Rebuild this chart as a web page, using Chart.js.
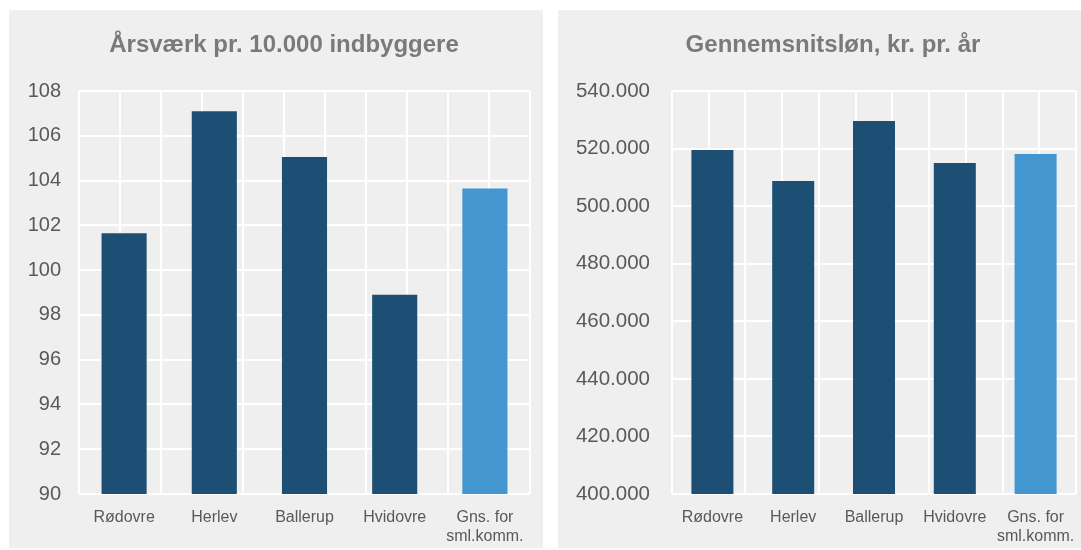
<!DOCTYPE html>
<html lang="da">
<head>
<meta charset="utf-8">
<title>Årsværk og gennemsnitsløn</title>
<script src="https://cdn.jsdelivr.net/npm/chart.js@4/dist/chart.umd.min.js"></script>
<style>
    html, body { margin: 0; padding: 0; background: #ffffff; }
    body { width: 1081px; height: 550px; position: relative; overflow: hidden; }
    .panel { position: absolute; top: 10px; height: 538px; background: #efefef; }
    #panelLeft { left: 9px; width: 534px; }
    #panelRight { left: 558px; width: 523px; }
</style>
</head>
<body>
<div class="panel" id="panelLeft"><canvas id="chartFte"></canvas></div>
<div class="panel" id="panelRight"><canvas id="chartSalary"></canvas></div>

<script>
// categories shared by both charts
const categories = ['Rødovre', 'Herlev', 'Ballerup', 'Hvidovre', ['Gns. for', 'sml.komm.']];

// Årsværk pr. 10.000 indbyggere
const fteValues = [101.65, 107.1, 105.05, 98.9, 103.65];
const fteTicks = [90, 92, 94, 96, 98, 100, 102, 104, 106, 108];

// Gennemsnitsløn, kr. pr. år
const salaryValues = [519500, 508700, 529600, 515000, 518100];
const salaryTicks = [400000, 420000, 440000, 460000, 480000, 500000, 520000, 540000];

const DARK = '#1c4f73';
const LIGHT = '#4396cf';
const barColors = [DARK, DARK, DARK, DARK, LIGHT];
const FONT = "'Liberation Sans', Arial, sans-serif";

Chart.defaults.font.family = FONT;
Chart.defaults.animation = false;

/**
 * Format a number with Danish thousands separator (540.000).
 */
function formatDa(value) {
    return String(Math.round(value)).replace(/\B(?=(\d{3})+(?!\d))/g, '.');
}

// title drawn a bit left of the canvas centre, like the original
const panelTitle = {
    id: 'panelTitle',
    afterDraw(chart, args, opts) {
        const c = chart.ctx;
        c.save();
        c.font = 'bold 24px ' + FONT;
        c.fillStyle = '#7a7a7a';
        c.textAlign = 'center';
        c.textBaseline = 'middle';
        c.fillText(opts.text, opts.x, opts.y);
        c.restore();
    }
};

/**
 * Build one bar chart panel.
 */
function initPanel(canvasId, title, values, ticks, opts) {
    const ctx = document.getElementById(canvasId);
    if (!ctx) return;

    new Chart(ctx, {
        type: 'bar',
        data: {
            labels: categories,
            datasets: [{
                data: values,
                backgroundColor: barColors,
                borderWidth: 0,
                barPercentage: opts.barPct,
                categoryPercentage: 1.0
            }]
        },
        plugins: [panelTitle],
        options: {
            responsive: true,
            maintainAspectRatio: false,
            layout: {
                padding: { left: 0, right: opts.padRight, top: 81, bottom: 0 }
            },
            scales: {
                y: {
                    min: ticks[0],
                    max: ticks[ticks.length - 1],
                    afterBuildTicks: function(axis) {
                        axis.ticks = ticks.map(v => ({ value: v }));
                    },
                    afterFit: function(axis) {
                        axis.width = opts.yWidth;
                    },
                    grid: {
                        color: '#ffffff',
                        lineWidth: 2,
                        drawTicks: false
                    },
                    border: { display: false },
                    ticks: {
                        padding: opts.yPad,
                        color: '#595959',
                        font: { size: opts.yFont },
                        callback: function(value) {
                            return opts.danish ? formatDa(value) : value;
                        }
                    }
                },
                x: {
                    grid: { display: false },
                    border: { display: false },
                    afterFit: function(axis) {
                        axis.height = 54;
                    },
                    ticks: {
                        padding: 6,
                        color: '#595959',
                        maxRotation: 0,
                        font: { size: 16, lineHeight: 1.2 }
                    }
                },
                // helper axis only for the vertical gridlines (edges and centres)
                xg: {
                    type: 'linear',
                    position: 'top',
                    min: -0.5,
                    max: 4.5,
                    ticks: { display: false, stepSize: 0.5 },
                    grid: {
                        color: '#ffffff',
                        lineWidth: 2,
                        drawTicks: false
                    },
                    border: { display: false }
                }
            },
            plugins: {
                legend: { display: false },
                tooltip: { enabled: false },
                title: { display: false },
                panelTitle: { text: title, x: 275, y: 35 }
            }
        }
    });
}

initPanel('chartFte', 'Årsværk pr. 10.000 indbyggere', fteValues, fteTicks,
    { yWidth: 70, yPad: 18, yFont: 20, padRight: 13, barPct: 0.5, danish: false });

initPanel('chartSalary', 'Gennemsnitsløn, kr. pr. år', salaryValues, salaryTicks,
    { yWidth: 114, yPad: 22, yFont: 20.5, padRight: 5, barPct: 0.52, danish: true });
</script>
</body>
</html>
